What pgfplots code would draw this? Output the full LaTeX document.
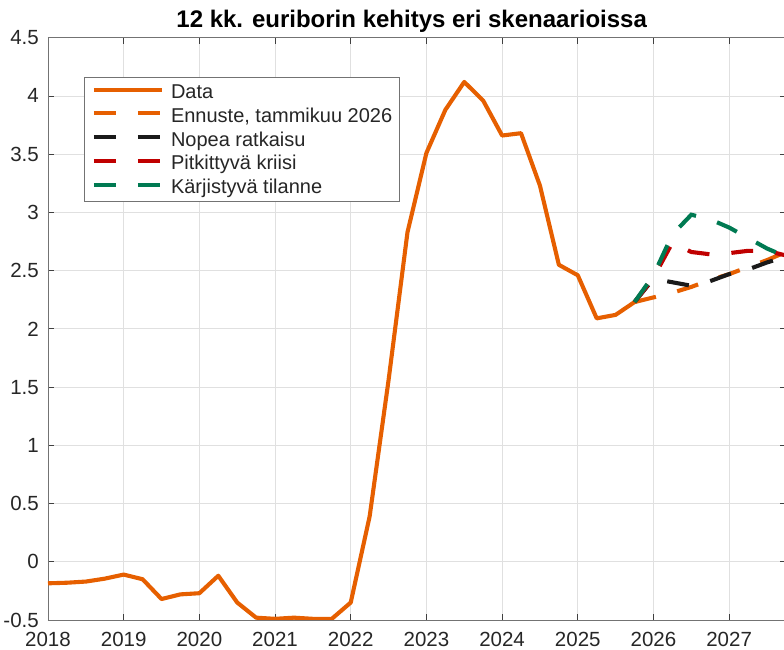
\documentclass[border=0pt]{standalone}
\usepackage{fontspec}
\setmainfont{Liberation Sans}
\usepackage{pgfplots}
\pgfplotsset{compat=1.18}
\definecolor{cdata}{RGB}{230,95,0}
\definecolor{cblack}{RGB}{26,26,26}
\definecolor{cred}{RGB}{192,0,0}
\definecolor{cgreen}{RGB}{0,122,82}
\definecolor{ctext}{RGB}{38,38,38}
\begin{document}
\begin{tikzpicture}
\begin{axis}[
  at={(0pt,0pt)}, anchor=south west,
  scale only axis, width=737.9pt, height=582.3pt,
  xmin=2018, xmax=2027.75, ymin=-0.5, ymax=4.5,
  xtick={2018,2019,2020,2021,2022,2023,2024,2025,2026,2027},
  xticklabels={2018,2019,2020,2021,2022,2023,2024,2025,2026,2027},
  ytick={-0.5,0,0.5,1,1.5,2,2.5,3,3.5,4,4.5},
  yticklabels={-0.5,0,0.5,1,1.5,2,2.5,3,3.5,4,4.5},
  grid=major, major grid style={black!12, line width=0.8pt},
  tick align=inside, major tick length=6pt,
  tick style={black!75, line width=0.8pt},
  axis line style={black!55, line width=0.8pt},
  ticklabel style={font=\fontsize{20.5}{24}\selectfont, text=ctext},
  xticklabel style={anchor=base, inner ysep=0pt, yshift=-26.8pt},
  yticklabel style={anchor=east, inner xsep=0pt, xshift=-9pt},
  legend style={at={(0.0488,0.9325)}, anchor=north west, draw=black!55, line width=0.8pt,
    font=\fontsize{20}{24}\selectfont, text=ctext, inner xsep=7.5pt, inner ysep=4.8pt,
    nodes={inner sep=0pt, text height=16.5pt, text depth=3.25pt},
    row sep=4pt, column sep=7pt},
  legend cell align=left,
  legend image code/.code={\draw[#1] (0pt,2.5pt) -- (68pt,2.5pt);},
]
\addplot[cdata, line width=4.1pt, line join=round] coordinates {
(2018.00,-0.185) (2018.25,-0.18) (2018.50,-0.17) (2018.75,-0.145)
(2019.00,-0.11) (2019.25,-0.15) (2019.50,-0.32) (2019.75,-0.28)
(2020.00,-0.27) (2020.25,-0.12) (2020.50,-0.35) (2020.75,-0.48)
(2021.00,-0.49) (2021.25,-0.48) (2021.50,-0.49) (2021.75,-0.49)
(2022.00,-0.35) (2022.25,0.39) (2022.50,1.56) (2022.75,2.83)
(2023.00,3.51) (2023.25,3.88) (2023.50,4.12) (2023.75,3.96)
(2024.00,3.66) (2024.25,3.68) (2024.50,3.23) (2024.75,2.55)
(2025.00,2.46) (2025.25,2.09) (2025.50,2.12) (2025.75,2.23)
};
\addlegendentry{Data}
\addplot[cdata, line width=4.1pt, dash pattern=on 22pt off 22pt] coordinates {
(2025.75,2.23) (2026.00,2.27) (2026.25,2.31) (2026.50,2.36) (2026.75,2.42)
(2027.00,2.47) (2027.25,2.53) (2027.50,2.59) (2027.75,2.66)
};
\addlegendentry{Ennuste, tammikuu 2026}
\addplot[cblack, line width=4.1pt, dash pattern=on 22pt off 22pt] coordinates {
(2025.75,2.23) (2026.00,2.43) (2026.25,2.40) (2026.50,2.37) (2026.75,2.41)
(2027.00,2.47) (2027.25,2.51) (2027.50,2.57) (2027.75,2.62)
};
\addlegendentry{Nopea ratkaisu}
\addplot[cred, line width=4.1pt, dash pattern=on 22pt off 22pt] coordinates {
(2025.75,2.23) (2026.00,2.44) (2026.25,2.74) (2026.50,2.66) (2026.75,2.64)
(2027.00,2.65) (2027.25,2.67) (2027.50,2.67) (2027.75,2.63)
};
\addlegendentry{Pitkittyvä kriisi}
\addplot[cgreen, line width=4.1pt, dash pattern=on 22pt off 22pt] coordinates {
(2025.75,2.23) (2026.00,2.46) (2026.25,2.81) (2026.50,2.98) (2026.75,2.94)
(2027.00,2.87) (2027.25,2.78) (2027.50,2.69) (2027.75,2.62)
};
\addlegendentry{Kärjistyvä tilanne}
\end{axis}
\node[anchor=base, font=\bfseries\fontsize{24}{28}\selectfont, text=black] at (363.7pt,592pt) {12 kk. euriborin kehitys eri skenaarioissa};
\pgfresetboundingbox
\path (-48pt,-30pt) rectangle (736pt,620pt);
\end{tikzpicture}
\end{document}
